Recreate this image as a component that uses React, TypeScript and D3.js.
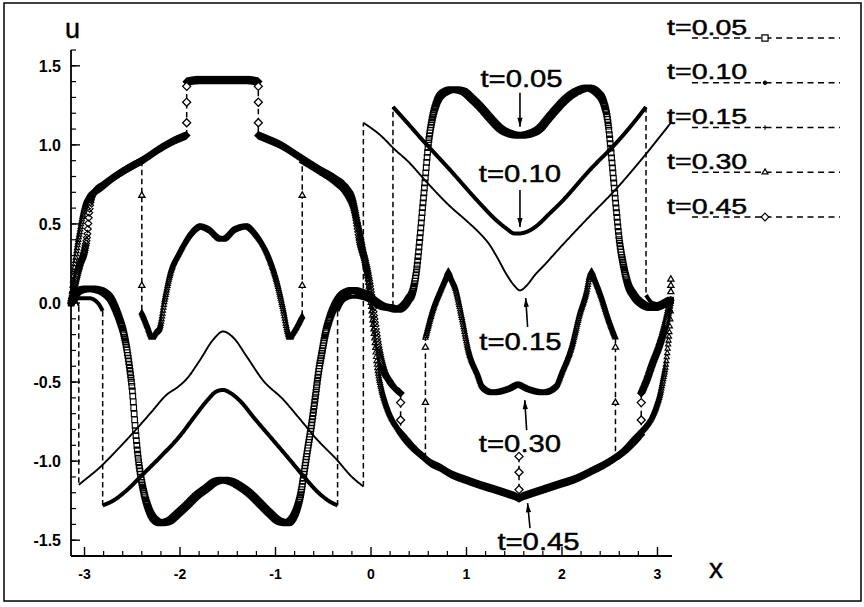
import React, { useMemo } from "react";
import * as d3 from "d3";

type P = [number, number];
// [x, u before, u after, ...u of grid points drawn along the jump]
type Jump = number[];

const X_TICKS = [-3, -2, -1, 0, 1, 2, 3];
const X_TICK_LABELS = ["-3", "-2", "-1", "0", "1", "2", "3"];
const Y_TICKS = [-1.5, -1, -0.5, 0, 0.5, 1, 1.5];
const Y_TICK_LABELS = ["-1.5", "-1.0", "-0.5", "0.0", "0.5", "1.0", "1.5"];

const TIMES = ["t=0.05", "t=0.10", "t=0.15", "t=0.30", "t=0.45"];

// t = 0.05 : smooth profile over the whole period
const U05: P[] = [
  [-3.14, 0.0], [-3.1, 0.05], [-3.05, 0.08], [-2.95, 0.09], [-2.84, 0.08], [-2.78, 0.06], [-2.73, 0.03],
  [-2.68, -0.03], [-2.63, -0.11], [-2.59, -0.19], [-2.56, -0.28], [-2.53, -0.4], [-2.5, -0.55],
  [-2.47, -0.78], [-2.44, -0.97], [-2.41, -1.1], [-2.37, -1.22], [-2.33, -1.3], [-2.28, -1.36],
  [-2.2, -1.39], [-2.12, -1.38], [-2.02, -1.33], [-1.93, -1.28], [-1.83, -1.22], [-1.72, -1.17],
  [-1.63, -1.13], [-1.55, -1.12], [-1.46, -1.13], [-1.37, -1.16], [-1.26, -1.21], [-1.16, -1.27],
  [-1.06, -1.33], [-0.96, -1.38], [-0.88, -1.39], [-0.82, -1.36], [-0.77, -1.29], [-0.73, -1.19],
  [-0.7, -1.07], [-0.67, -0.95], [-0.62, -0.76], [-0.58, -0.58], [-0.55, -0.44], [-0.51, -0.3],
  [-0.48, -0.2], [-0.44, -0.11], [-0.39, -0.03], [-0.32, 0.04], [-0.25, 0.07], [-0.19, 0.08],
  [-0.12, 0.07], [-0.04, 0.05], [0.04, 0.01], [0.12, -0.02], [0.2, -0.03], [0.28, -0.04],
  [0.34, -0.02], [0.39, 0.02], [0.44, 0.08], [0.48, 0.22], [0.51, 0.4], [0.54, 0.6], [0.57, 0.8],
  [0.6, 1.0], [0.64, 1.16], [0.69, 1.27], [0.76, 1.33], [0.86, 1.35], [0.96, 1.34], [1.06, 1.29],
  [1.16, 1.23], [1.26, 1.16], [1.36, 1.1], [1.46, 1.07], [1.56, 1.06], [1.66, 1.07], [1.76, 1.1],
  [1.86, 1.17], [1.96, 1.24], [2.06, 1.3], [2.16, 1.34], [2.27, 1.36], [2.37, 1.33], [2.44, 1.26],
  [2.48, 1.15], [2.51, 0.98], [2.54, 0.78], [2.57, 0.58], [2.6, 0.4], [2.64, 0.25], [2.69, 0.12],
  [2.75, 0.05], [2.85, -0.01], [2.95, -0.03], [3.05, -0.01], [3.14, 0.02],
];

// t = 0.10
const U10_L: P[] = [[-3.14, 0.0], [-3.05, 0.03], [-2.95, 0.03], [-2.86, 0.0], [-2.81, -0.05]];
const U10_M1: P[] = [
  [-2.81, -1.28], [-2.7, -1.25], [-2.55, -1.18], [-2.4, -1.09], [-2.2, -0.97], [-2.0, -0.84],
  [-1.85, -0.72], [-1.72, -0.62], [-1.62, -0.56], [-1.55, -0.55], [-1.47, -0.57], [-1.37, -0.62],
  [-1.22, -0.73], [-1.05, -0.85], [-0.88, -0.97], [-0.7, -1.1], [-0.55, -1.2], [-0.42, -1.26], [-0.35, -1.28],
];
const U10_C: P[] = [[-0.35, -0.05], [-0.28, 0.02], [-0.18, 0.04], [-0.08, 0.03], [0.04, 0.0], [0.14, -0.02], [0.23, -0.02]];
const U10_M2: P[] = [
  [0.23, 1.24], [0.35, 1.16], [0.54, 1.03], [0.83, 0.84], [1.14, 0.63], [1.3, 0.53], [1.42, 0.47],
  [1.5, 0.44], [1.56, 0.44], [1.63, 0.45], [1.74, 0.49], [1.86, 0.56], [1.98, 0.63], [2.29, 0.84],
  [2.61, 1.04], [2.75, 1.14], [2.88, 1.24],
];
const U10_R: P[] = [[2.88, 0.05], [2.95, 0.0], [3.05, -0.01], [3.14, 0.0]];
const U10_JUMPS: Jump[] = [[-2.81, -0.05, -1.28], [-0.35, -1.28, -0.05], [0.23, -0.02, 1.24], [2.88, 1.24, 0.05]];

// t = 0.15
const U15_L: P[] = [[-3.14, 0.0], [-3.1, 0.02], [-3.06, -0.02]];
const U15_M1: P[] = [
  [-3.06, -1.15], [-3.02, -1.13], [-2.84, -1.04], [-2.66, -0.93], [-2.49, -0.82], [-2.3, -0.69],
  [-2.14, -0.58], [-2.02, -0.53], [-1.93, -0.48], [-1.79, -0.36], [-1.65, -0.23], [-1.55, -0.18],
  [-1.44, -0.22], [-1.3, -0.34], [-1.13, -0.49], [-0.92, -0.61], [-0.75, -0.73], [-0.57, -0.86],
  [-0.36, -0.99], [-0.2, -1.1], [-0.08, -1.16],
];
const U15_M2: P[] = [
  [-0.08, 1.14], [0.1, 1.06], [0.25, 0.97], [0.38, 0.9], [0.59, 0.76], [0.83, 0.61], [1.0, 0.52],
  [1.14, 0.44], [1.24, 0.37], [1.32, 0.29], [1.42, 0.18], [1.5, 0.11], [1.56, 0.08], [1.63, 0.11],
  [1.72, 0.18], [1.8, 0.23], [1.98, 0.35], [2.26, 0.53], [2.58, 0.73], [2.89, 0.95], [3.14, 1.14],
];
const U15_JUMPS: Jump[] = [[-3.06, -0.02, -1.15], [-0.08, -1.16, 1.14]];

// t = 0.30
const U30_A: P[] = [
  [-3.14, 0.0], [-3.12, 0.15], [-3.09, 0.3], [-3.05, 0.45], [-3.01, 0.58], [-2.97, 0.66], [-2.92, 0.69],
  [-2.85, 0.72], [-2.73, 0.78], [-2.55, 0.85], [-2.4, 0.9],
];
const U30_B: P[] = [
  [-2.4, -0.06], [-2.34, -0.15], [-2.31, -0.2], [-2.29, -0.22], [-2.27, -0.2], [-2.21, -0.15],
  [-2.16, 0.02], [-2.1, 0.19], [-2.0, 0.33], [-1.9, 0.43], [-1.79, 0.48], [-1.69, 0.46], [-1.56, 0.4],
  [-1.44, 0.46], [-1.3, 0.48], [-1.2, 0.43], [-1.09, 0.32], [-0.98, 0.12], [-0.92, -0.04],
  [-0.87, -0.19], [-0.85, -0.22], [-0.83, -0.2], [-0.78, -0.15], [-0.72, -0.08],
];
const U30_C: P[] = [
  [-0.72, 0.9], [-0.53, 0.83], [-0.36, 0.76], [-0.26, 0.7], [-0.18, 0.6], [-0.12, 0.46], [-0.07, 0.3],
  [-0.03, 0.14], [0.0, -0.02], [0.03, -0.2], [0.06, -0.38], [0.1, -0.52], [0.15, -0.63], [0.21, -0.72],
  [0.28, -0.79], [0.36, -0.86], [0.45, -0.92], [0.57, -0.98],
];
const U30_D: P[] = [
  [0.57, -0.22], [0.65, -0.04], [0.74, 0.1], [0.79, 0.17], [0.81, 0.2], [0.83, 0.17], [0.88, 0.1],
  [0.95, -0.09], [1.02, -0.3], [1.11, -0.44], [1.17, -0.53], [1.28, -0.57], [1.42, -0.55], [1.54, -0.52],
  [1.66, -0.55], [1.8, -0.57], [1.93, -0.53], [2.01, -0.42], [2.1, -0.28], [2.19, -0.06], [2.26, 0.08],
  [2.29, 0.17], [2.31, 0.2], [2.33, 0.17], [2.4, 0.06], [2.48, -0.09], [2.56, -0.22],
];
const U30_E: P[] = [
  [2.56, -0.98], [2.65, -0.93], [2.74, -0.87], [2.82, -0.82], [2.89, -0.77], [2.95, -0.71], [2.99, -0.65],
  [3.03, -0.57], [3.06, -0.48], [3.09, -0.38], [3.11, -0.27], [3.13, -0.15], [3.14, -0.05],
];
const U30_JUMPS: Jump[] = [
  [-2.4, 0.9, -0.06, 0.68, 0.11],
  [-0.72, -0.08, 0.9, 0.11, 0.68],
  [0.57, -0.98, -0.22, -0.63, -0.28],
  [2.56, -0.22, -0.98, -0.28, -0.63],
  [3.14, -0.05, 0.15, 0.07, 0.11, 0.15],
];

// t = 0.45
const U45_A: P[] = [
  [-3.14, 0.0], [-3.1, 0.12], [-3.05, 0.24], [-3.0, 0.33], [-2.97, 0.44], [-2.95, 0.58], [-2.93, 0.66],
  [-2.9, 0.7], [-2.82, 0.74], [-2.73, 0.78], [-2.55, 0.85], [-2.4, 0.9], [-2.2, 0.98], [-2.05, 1.03],
  [-1.93, 1.06],
];
const U45_B: P[] = [[-1.93, 1.4], [-1.8, 1.41], [-1.55, 1.41], [-1.3, 1.41], [-1.18, 1.4]];
const U45_C: P[] = [
  [-1.18, 1.06], [-1.1, 1.04], [-0.95, 1.0], [-0.74, 0.92], [-0.53, 0.84], [-0.36, 0.78], [-0.26, 0.73],
  [-0.2, 0.66], [-0.16, 0.55], [-0.12, 0.4], [-0.06, 0.26], [-0.02, 0.14], [0.01, 0.02], [0.04, -0.12],
  [0.07, -0.25], [0.12, -0.4], [0.2, -0.5], [0.31, -0.57],
];
const U45_D: P[] = [
  [0.31, -0.82], [0.44, -0.91], [0.54, -0.97], [0.62, -1.01], [0.72, -1.04], [0.83, -1.08], [1.0, -1.12],
  [1.14, -1.15], [1.3, -1.18], [1.45, -1.21], [1.52, -1.225], [1.55, -1.235], [1.58, -1.225],
  [1.65, -1.21], [1.8, -1.18], [1.95, -1.15], [2.15, -1.11], [2.32, -1.06], [2.45, -1.02],
  [2.58, -0.97], [2.71, -0.91], [2.83, -0.83],
];
const U45_E: P[] = [[2.83, -0.57], [2.88, -0.5], [2.95, -0.38], [3.02, -0.27], [3.07, -0.17], [3.11, -0.07], [3.14, 0.03]];
const U45_JUMPS: Jump[] = [
  [-1.93, 1.06, 1.4, 1.14, 1.27, 1.37],
  [-1.18, 1.4, 1.06, 1.37, 1.27, 1.14],
  [0.31, -0.57, -0.82, -0.63, -0.74],
  [1.55, -1.235, -0.97, -1.18, -1.07, -0.97],
  [2.83, -0.83, -0.57, -0.74, -0.63],
];

// Render a monotone-x curve into a dense polyline (pixel space).
function flatten(pts: P[]): P[] {
  const out: P[] = [];
  let cx = 0;
  let cy = 0;
  const ctx: any = {
    moveTo(a: number, b: number) { out.push([a, b]); cx = a; cy = b; },
    lineTo(a: number, b: number) { out.push([a, b]); cx = a; cy = b; },
    bezierCurveTo(x1: number, y1: number, x2: number, y2: number, a: number, b: number) {
      const n = 40;
      for (let i = 1; i <= n; i++) {
        const t = i / n;
        const m = 1 - t;
        out.push([
          m * m * m * cx + 3 * m * m * t * x1 + 3 * m * t * t * x2 + t * t * t * a,
          m * m * m * cy + 3 * m * m * t * y1 + 3 * m * t * t * y2 + t * t * t * b,
        ]);
      }
      cx = a; cy = b;
    },
    closePath() {},
  };
  d3.line<P>().curve(d3.curveMonotoneX).context(ctx)(pts);
  return out;
}

// Positions of grid nodes along the curve, evenly spaced in x.
function sampleAtX(poly: P[], step: number): P[] {
  const out: P[] = [];
  const x0 = poly[0][0];
  const x1 = poly[poly.length - 1][0];
  let j = 0;
  for (let xv = x0; xv <= x1 + 1e-6; xv += step) {
    while (j < poly.length - 2 && poly[j + 1][0] < xv) j++;
    const [ax, ay] = poly[j];
    const [bx, by] = poly[j + 1];
    const t = bx === ax ? 0 : Math.max(0, Math.min(1, (xv - ax) / (bx - ax)));
    out.push([xv, ay + (by - ay) * t]);
  }
  return out;
}

const r2 = (v: number) => Math.round(v * 100) / 100;

function shape(kind: string, cx: number, cy: number, k: number): string {
  if (kind === "square") {
    const h = 2.8 * k;
    return `M${r2(cx - h)},${r2(cy - h)}h${r2(2 * h)}v${r2(2 * h)}h${r2(-2 * h)}Z`;
  }
  if (kind === "triangle") {
    const a = 3.1 * k;
    return `M${r2(cx)},${r2(cy - a)}L${r2(cx + a * 0.87)},${r2(cy + a * 0.5)}L${r2(cx - a * 0.87)},${r2(cy + a * 0.5)}Z`;
  }
  if (kind === "diamond") {
    const a = 3.5 * k;
    return `M${r2(cx)},${r2(cy - a)}L${r2(cx + a)},${r2(cy)}L${r2(cx)},${r2(cy + a)}L${r2(cx - a)},${r2(cy)}Z`;
  }
  if (kind === "plus") {
    const a = 2 * k;
    return `M${r2(cx - a)},${r2(cy)}h${r2(2 * a)}M${r2(cx)},${r2(cy - a)}v${r2(2 * a)}`;
  }
  const a = 1.8 * k;
  return `M${r2(cx - a)},${r2(cy)}a${a},${a} 0 1,0 ${r2(2 * a)},0a${a},${a} 0 1,0 ${r2(-2 * a)},0Z`;
}

function arrowHead(x0: number, y0: number, x1: number, y1: number): string {
  const dx = x1 - x0;
  const dy = y1 - y0;
  const len = Math.hypot(dx, dy);
  const ux = dx / len;
  const uy = dy / len;
  const L = 9;
  const w = 2.6;
  const bx = x1 - ux * L;
  const by = y1 - uy * L;
  return `M${r2(x1)},${r2(y1)}L${r2(bx - uy * w)},${r2(by + ux * w)}L${r2(bx + uy * w)},${r2(by - ux * w)}Z`;
}

export default function App() {
  const W = 864;
  const H = 607;
  const x = d3.scaleLinear().domain([-Math.PI, Math.PI]).range([71, 671]);
  const y = d3.scaleLinear().domain([-1.6, 1.6]).range([556, 50]);

  const series = [
    { label: TIMES[0], pieces: [U05], jumps: [] as Jump[], kind: "square", band: true, k: 1, width: 0 },
    { label: TIMES[1], pieces: [U10_L, U10_M1, U10_C, U10_M2, U10_R], jumps: U10_JUMPS, kind: "dot", band: false, k: 1, width: 4 },
    { label: TIMES[2], pieces: [U15_L, U15_M1, U15_M2], jumps: U15_JUMPS, kind: "plus", band: false, k: 1, width: 1.9 },
    { label: TIMES[3], pieces: [U30_A, U30_B, U30_C, U30_D, U30_E], jumps: U30_JUMPS, kind: "triangle", band: true, k: 0.95, width: 0 },
    { label: TIMES[4], pieces: [U45_A, U45_B, U45_C, U45_D, U45_E], jumps: U45_JUMPS, kind: "diamond", band: true, k: 1, width: 0 },
  ];

  const drawn = useMemo(
    () =>
      series.map((s) => {
        const polys = s.pieces.map((p) => flatten(p.map(([a, b]) => [x(a), y(b)] as P)));
        if (s.band) {
          return polys
            .map((poly) => sampleAtX(poly, 0.45).map(([cx, cy]) => shape(s.kind, cx, cy, s.k)).join(""))
            .join("");
        }
        return polys.map((poly) => d3.line()(poly as [number, number][]) || "").join("");
      }),
    []
  );

  // in-plot labels: centre x, baseline u, arrow tail and tip (data units)
  const notes = [
    { tx: 1.576, tu: 1.367, from: [1.56, 1.329], to: [1.56, 1.114] },
    { tx: 1.56, tu: 0.766, from: [1.56, 0.715], to: [1.56, 0.481] },
    { tx: 1.565, tu: -0.297, from: [1.64, -0.152], to: [1.62, 0.032] },
    { tx: 1.56, tu: -0.943, from: [1.63, -0.804], to: [1.61, -0.614] },
    { tx: 1.754, tu: -1.563, from: [1.665, -1.424], to: [1.64, -1.266] },
  ];

  const xMinor = d3.range(-15, 16).map((i) => i / 5).filter((v) => Math.abs(v - Math.round(v)) > 1e-6);
  const yMinor = d3.range(-16, 17).map((i) => i / 10);

  const font = "'Liberation Sans', Arial, Helvetica, sans-serif";
  // horizontally widened label type
  const wide = (cx: number, by: number, sx: number) => `translate(${r2(cx)},${r2(by)}) scale(${sx},1)`;

  return (
    <svg
      width={W}
      height={H}
      viewBox={`0 0 ${W} ${H}`}
      style={{ position: "absolute", left: 0, top: 0, display: "block", background: "#fff" }}
      fontFamily={font}
    >
      <rect x={4} y={3} width={857} height={598} fill="#fff" stroke="#000" strokeWidth={1.5} />

      {/* axes */}
      <g stroke="#000" fill="none">
        <line x1={x(-Math.PI)} x2={x(Math.PI) + 1} y1={y(-1.6)} y2={y(-1.6)} strokeWidth={1.8} />
        <line x1={x(-Math.PI)} x2={x(-Math.PI)} y1={y(1.6)} y2={y(-1.6)} strokeWidth={1.8} />
        {X_TICKS.map((v) => (
          <line key={`xM${v}`} x1={x(v)} x2={x(v)} y1={y(-1.6)} y2={y(-1.6) - 9} strokeWidth={1.4} />
        ))}
        {xMinor.map((v) => (
          <line key={`xm${v}`} x1={x(v)} x2={x(v)} y1={y(-1.6)} y2={y(-1.6) - 5} strokeWidth={1.2} />
        ))}
        {Y_TICKS.map((v) => (
          <line key={`yM${v}`} x1={x(-Math.PI)} x2={x(-Math.PI) + 9} y1={y(v)} y2={y(v)} strokeWidth={1.4} />
        ))}
        {yMinor.map((v) => (
          <line key={`ym${v}`} x1={x(-Math.PI)} x2={x(-Math.PI) + 5} y1={y(v)} y2={y(v)} strokeWidth={1.2} />
        ))}
      </g>
      <g fontSize={16} fontWeight="bold" fill="#000">
        {Y_TICKS.map((v, i) => (
          <text key={`yl${v}`} x={61} y={y(v)} dy="0.36em" textAnchor="end">
            {Y_TICK_LABELS[i]}
          </text>
        ))}
        {X_TICKS.map((v, i) => (
          <text key={`xl${v}`} x={x(v)} y={579} fontSize={14} textAnchor="middle">
            {X_TICK_LABELS[i]}
          </text>
        ))}
      </g>
      <text x={65} y={38} fontSize={27} stroke="#000" strokeWidth={0.4}>u</text>
      <text x={709} y={578} fontSize={28} stroke="#000" strokeWidth={0.4}>x</text>

      {/* solution curves */}
      {series.map((s, i) =>
        s.band ? (
          <path key={`b${i}`} d={drawn[i]} fill="none" stroke="#000" strokeWidth={1.15} />
        ) : (
          <path key={`l${i}`} d={drawn[i]} fill="none" stroke="#000" strokeWidth={s.width} strokeLinejoin="round" />
        )
      )}

      {/* jumps between neighbouring grid nodes */}
      {series.map((s, i) =>
        s.jumps.map((j, k) => {
          const [jx, u0, u1, ...marks] = j;
          return (
            <g key={`j${i}-${k}`}>
              <line x1={x(jx)} x2={x(jx)} y1={y(u0)} y2={y(u1)} stroke="#000" strokeWidth={1.5} strokeDasharray="5.5 3.5" />
              {marks.length > 0 && (
                <path
                  d={marks.map((m) => shape(s.kind, x(jx), y(m), 1.15)).join("")}
                  fill={s.kind === "dot" ? "#000" : "#fff"}
                  stroke="#000"
                  strokeWidth={1.3}
                />
              )}
            </g>
          );
        })
      )}

      {/* labels with arrows */}
      {notes.map((n, i) => {
        const x0 = x(n.from[0]);
        const y0 = y(n.from[1]);
        const x1 = x(n.to[0]);
        const y1 = y(n.to[1]);
        return (
          <g key={`n${i}`}>
            <text
              transform={wide(x(n.tx), y(n.tu), 1.22)}
              fontSize={24}
              textAnchor="middle"
              stroke="#000"
              strokeWidth={0.45}
            >
              {TIMES[i]}
            </text>
            <line x1={x0} y1={y0} x2={x1} y2={y1} stroke="#000" strokeWidth={1.6} />
            <path d={arrowHead(x0, y0, x1, y1)} fill="#000" />
          </g>
        );
      })}

      {/* legend */}
      {series.map((s, i) => {
        const ly = 38 + i * 44.75;
        return (
          <g key={`lg${i}`}>
            <text transform={wide(667, ly - 3.5, 1.3)} fontSize={22} stroke="#000" strokeWidth={0.45}>
              {s.label}
            </text>
            <line x1={692} x2={840} y1={ly} y2={ly} stroke="#000" strokeWidth={1.3} strokeDasharray="6 4.5" />
            <path
              d={shape(s.kind, 765, ly, s.kind === "dot" ? 0.9 : 1.1)}
              fill={s.kind === "dot" ? "#000" : "#fff"}
              stroke="#000"
              strokeWidth={1.2}
            />
          </g>
        );
      })}
    </svg>
  );
}
